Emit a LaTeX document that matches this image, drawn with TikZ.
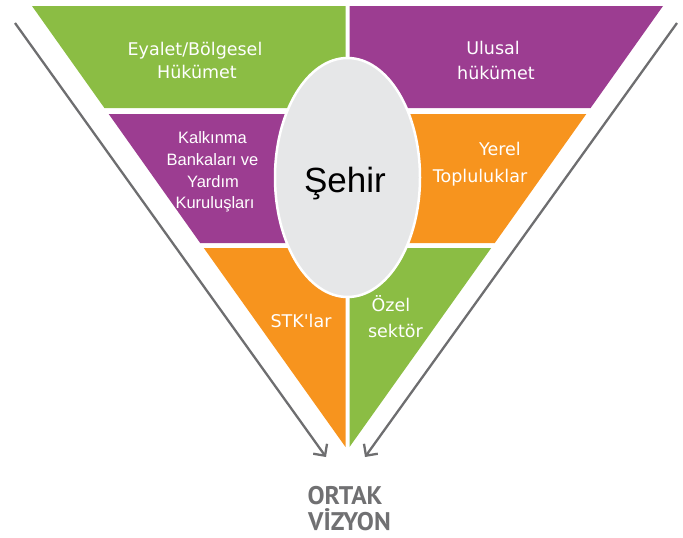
\documentclass[tikz,border=0pt]{standalone}
\usepackage{fontspec}
\usetikzlibrary{arrows.meta,shapes.geometric}
\newfontfamily\labfont{DejaVu Sans}
\newfontfamily\arfont{Liberation Sans}
\newfontfamily\ptfont{PT Sans}
\definecolor{cgreen}{RGB}{139,189,68}
\definecolor{cpurple}{RGB}{156,61,145}
\definecolor{corange}{RGB}{247,148,30}
\definecolor{cgray}{RGB}{230,231,232}
\definecolor{carrow}{RGB}{110,110,112}
\definecolor{ctext}{RGB}{112,112,114}
\tikzset{
  piece/.style={draw=none},
  lab/.style={text=white, anchor=base, inner sep=0pt, font=\labfont\fontsize{17.5}{20}\selectfont},
  labn/.style={text=white, anchor=base, inner sep=0pt, font=\arfont\fontsize{16.5}{19}\selectfont},
  bigarrow/.style={draw=carrow, line width=2.3pt, -{Straight Barb[length=8.5pt,width=17pt]}},
  vision/.style={text=ctext, anchor=base, inner sep=0pt, font=\ptfont\bfseries\fontsize{25.5}{30}\selectfont},
}
\begin{document}
\begin{tikzpicture}[x=1pt,y=-1pt]
\useasboundingbox (0,0) rectangle (683,538);
% pieces
\fill[cgreen]  (32,6) -- (345.5,6) -- (345.5,108) -- (104.4,108) -- cycle;
\fill[cpurple] (349.5,6) -- (663,6) -- (590.6,108) -- (349.5,108) -- cycle;
\fill[cpurple] (108.7,114) -- (345.5,114) -- (345.5,243) -- (200.2,243) -- cycle;
\fill[corange] (349.5,114) -- (586.3,114) -- (494.8,243) -- (349.5,243) -- cycle;
\fill[corange] (203.8,248) -- (345.5,248) -- (345.5,447) -- cycle;
\fill[cgreen]  (349.5,248) -- (491.2,248) -- (349.5,447) -- cycle;
% ellipse
\node[ellipse, draw=white, line width=2.5pt, fill=cgray, minimum width=145pt, minimum height=239pt, inner sep=0pt] (city) at (347.5,177.5) {};
\node[anchor=base, inner sep=0pt, font=\arfont\fontsize{35}{40}\selectfont] (sehir) at (345,192) {Şehir};
% labels
\node[lab] (e1) at (195,55) {Eyalet/Bölgesel};
\node[lab] (e2) at (197,78.5) {Hükümet};
\node[lab] (u1) at (493,54) {Ulusal};
\node[lab] (u2) at (496,79) {hükümet};
\node[labn] (k1) at (212.5,143) {Kalkınma};
\node[labn] (k2) at (212.5,165) {Bankaları ve};
\node[labn] (k3) at (213,187) {Yardım};
\node[labn] (k4) at (215,208) {Kuruluşları};
\node[lab] (y1) at (500,155) {Yerel};
\node[lab] (y2) at (480,182) {Topluluklar};
\node[lab] (s1) at (301,327) {STK'lar};
\node[lab] (o1) at (391,311) {Özel};
\node[lab] (o2) at (395.5,337) {sektör};
% arrows
\coordinate (la) at (15,23);
\coordinate (lb) at (326,457);
\coordinate (ra) at (677,23);
\coordinate (rb) at (365,457);
\draw[bigarrow] (la) -- (lb);
\draw[bigarrow] (ra) -- (rb);
% bottom text
\node[vision] (v1) at (345,504) {ORTAK};
\node[vision] (v2) at (349.5,530) {VİZYON};
\end{tikzpicture}
\end{document}
